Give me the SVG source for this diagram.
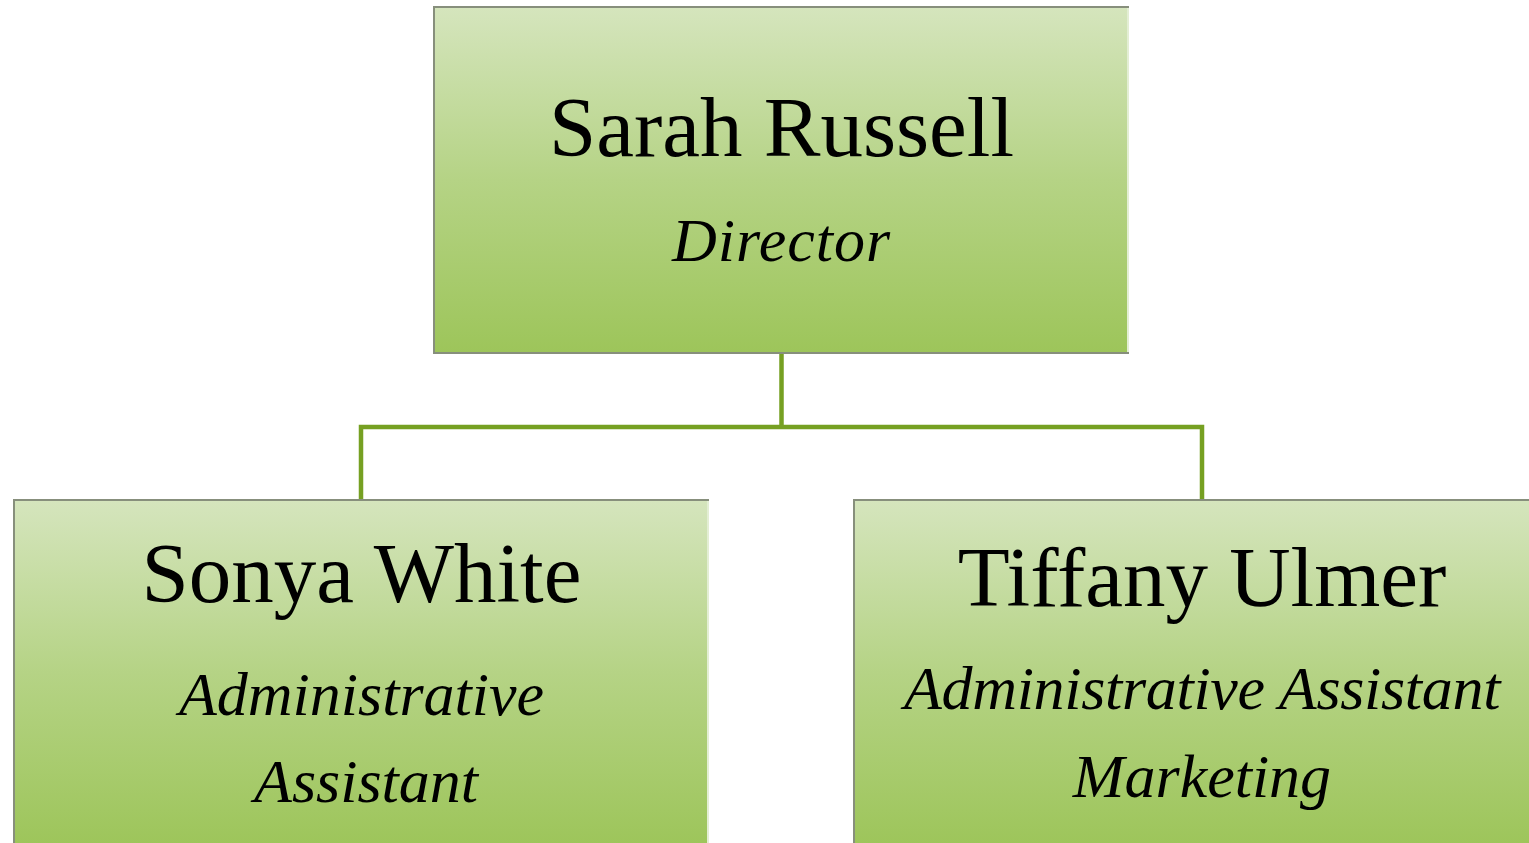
<svg xmlns="http://www.w3.org/2000/svg" width="1529" height="843" viewBox="0 0 1529 843">
  <defs>
    <linearGradient id="g" x1="0" y1="0" x2="0" y2="1">
      <stop offset="0" stop-color="#d5e5bd"/>
      <stop offset="0.5" stop-color="#b5d385"/>
      <stop offset="1" stop-color="#9dc55a"/>
    </linearGradient>
    <style>
      .box { fill: url(#g); }
      .edge { stroke: #878f7c; stroke-width: 2; fill: none; }
      .redge { stroke: #e3eed4; stroke-width: 2; fill: none; }
      .conn { stroke: #76a022; stroke-width: 4.5; fill: none; stroke-linejoin: miter; }
      .name { font-family: "Liberation Serif", "Times New Roman", serif; font-size: 85px; fill: #000; text-anchor: middle; }
      .role { font-family: "Liberation Serif", "Times New Roman", serif; font-style: italic; font-size: 62px; fill: #000; text-anchor: middle; }
    </style>
  </defs>
  <rect width="1529" height="843" fill="#ffffff"/>
  <g id="connectors">
    <path class="conn" d="M781.5 353 V427 M361 500 V427 H1202 V500"/>
  </g>
  <g id="node-sarah">
    <rect class="box" x="434" y="7" width="695" height="346"/>
    <path class="edge" d="M1129 7 H434 V353 H1129"/>
    <path class="redge" d="M1128 8 V352"/>
    <text class="name" x="781.5" y="156">Sarah Russell</text>
    <text class="role" x="781.5" y="261" letter-spacing="1">Director</text>
  </g>
  <g id="node-sonya">
    <rect class="box" x="14" y="500" width="695" height="346"/>
    <path class="edge" d="M709 500 H14 V846"/>
    <path class="redge" d="M708 501 V846"/>
    <text class="name" x="361.5" y="602">Sonya White</text>
    <text class="role" x="361.5" y="715">Administrative</text>
    <text class="role" x="366" y="802">Assistant</text>
  </g>
  <g id="node-tiffany">
    <rect class="box" x="854" y="500" width="696" height="346"/>
    <path class="edge" d="M1550 500 H854 V846"/>
    <text class="name" x="1202" y="606">Tiffany Ulmer</text>
    <text class="role" x="1202" y="709" letter-spacing="-0.3">Administrative Assistant</text>
    <text class="role" x="1202" y="797">Marketing</text>
  </g>
</svg>
